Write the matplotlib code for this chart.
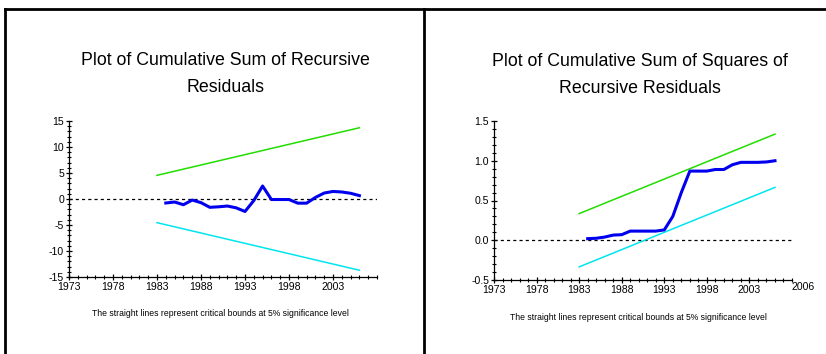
import matplotlib.pyplot as plt
from matplotlib.lines import Line2D
from matplotlib.ticker import MultipleLocator

plt.rcParams['font.family'] = ['Liberation Sans', 'DejaVu Sans']

# Data
years = list(range(1984, 2007))
cusum = [-0.77, -0.58, -1.1, -0.2, -0.7, -1.6, -1.5, -1.35, -1.7, -2.4, -0.3, 2.5,
         -0.1, -0.1, -0.1, -0.8, -0.8, 0.3, 1.15, 1.45, 1.35, 1.1, 0.65]
cusumsq = [0.02, 0.025, 0.04, 0.065, 0.07, 0.115, 0.115, 0.115, 0.115, 0.13, 0.30, 0.60,
           0.87, 0.87, 0.87, 0.89, 0.89, 0.95, 0.98, 0.98, 0.98, 0.985, 1.0]

bound_years = [1983, 2006]
cusum_upper = [4.55, 13.7]
cusum_lower = [-4.55, -13.7]
cusumsq_upper = [0.335, 1.335]
cusumsq_lower = [-0.335, 0.665]

xticks = [1973, 1978, 1983, 1988, 1993, 1998, 2003]
note = 'The straight lines represent critical bounds at 5% significance level'

W, H = 826, 354
fig = plt.figure(figsize=(W / 100, H / 100), dpi=100)

# panel frame lines
for xs, ys in [([5, 5], [H, 9]), ([5, W], [9, 9]), ([424, 424], [H, 9])]:
    fig.add_artist(Line2D([x / W for x in xs], [1 - y / H for y in ys],
                          color='black', lw=2))


def style_axis(ax, ymin, ymax, ymaj, ymin_step, ylabels):
    for s in ['top', 'right']:
        ax.spines[s].set_visible(False)
    for s in ['left', 'bottom']:
        ax.spines[s].set_linewidth(0.9)
    ax.set_xlim(1973, 2008)
    ax.set_ylim(ymin, ymax)
    ax.set_xticks(xticks)
    ax.xaxis.set_minor_locator(MultipleLocator(1))
    ax.yaxis.set_minor_locator(MultipleLocator(ymin_step))
    ax.set_yticks([ymin + i * ymaj for i in range(len(ylabels))])
    ax.set_yticklabels(ylabels)
    ax.tick_params(which='major', direction='inout', length=5, width=0.9,
                   labelsize=7.6, pad=1)
    ax.tick_params(which='minor', direction='inout', length=2.5, width=0.8)
    ax.axhline(0, color='black', lw=0.9, ls=(0, (2.5, 2.5)), zorder=1)


# left: CUSUM
ax1 = fig.add_axes([69 / W, 1 - 277 / H, 308 / W, 156 / H])
style_axis(ax1, -15, 15, 5, 1, ['-15', '-10', '-5', '0', '5', '10', '15'])
ax1.plot(bound_years, cusum_upper, color='#22dd00', lw=1.1)
ax1.plot(bound_years, cusum_lower, color='#00e5ee', lw=1.1)
ax1.plot(years, cusum, color='#0000ee', lw=2.2)
fig.text(225 / W, 1 - 74 / H, 'Plot of Cumulative Sum of Recursive\nResiduals',
         ha='center', va='center', fontsize=12.8, linespacing=1.8)
fig.text(220 / W, 1 - 313 / H, note, ha='center', va='center', fontsize=6.2)

# right: CUSUM of squares
ax2 = fig.add_axes([494 / W, 1 - 280 / H, 298 / W, 159 / H])
style_axis(ax2, -0.5, 1.5, 0.5, 0.1, ['-0.5', '0.0', '0.5', '1.0', '1.5'])
ax2.plot(bound_years, cusumsq_upper, color='#22dd00', lw=1.1)
ax2.plot(bound_years, cusumsq_lower, color='#00e5ee', lw=1.1)
ax2.plot(years, cusumsq, color='#0000ee', lw=2.2)
ax2.text(2009.3, -0.53, '2006', ha='center', va='top', fontsize=7.6, clip_on=False)
fig.text(640 / W, 1 - 75 / H, 'Plot of Cumulative Sum of Squares of\nRecursive Residuals',
         ha='center', va='center', fontsize=12.8, linespacing=1.8)
fig.text(638 / W, 1 - 317 / H, note, ha='center', va='center', fontsize=6.2)

fig.savefig('out.png', dpi=100)
